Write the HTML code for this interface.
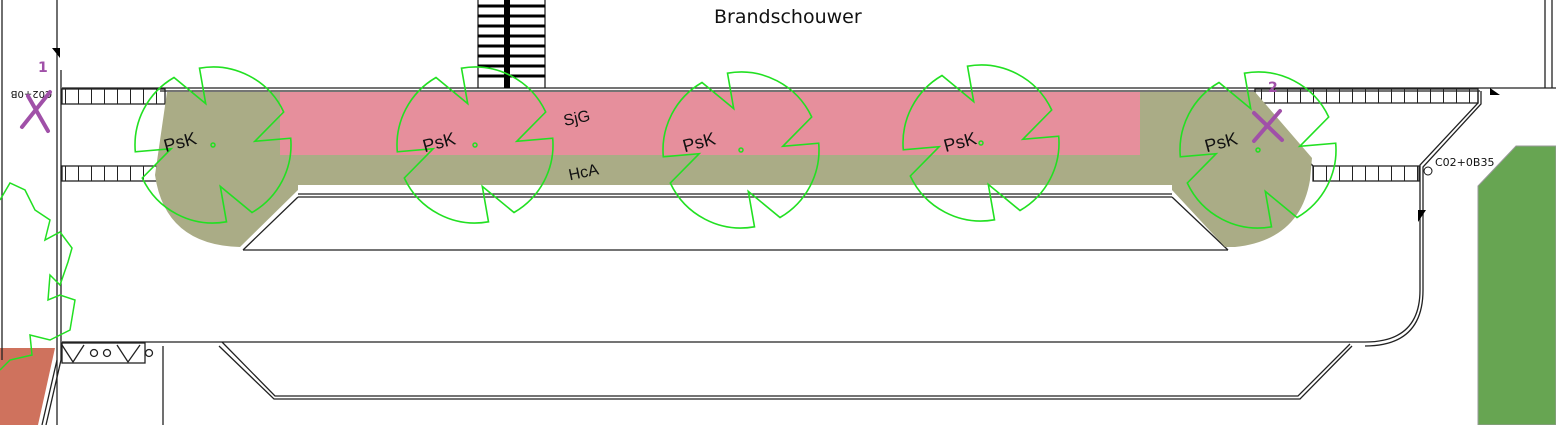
<!DOCTYPE html>
<html><head><meta charset="utf-8"><style>
html,body{margin:0;padding:0;background:#fff}
svg{display:block}
</style></head><body>
<svg width="1556" height="425" viewBox="0 0 1556 425" xmlns="http://www.w3.org/2000/svg">
<defs>
<path id="tree" d="M-13.5,-76.8 A78 78 0 0 1 70.7,-33 L41.8,-3.7 L77.7,-6.8 A78 78 0 0 1 39,67.5 L7.3,41.4 L13.5,76.8 A78 78 0 0 1 -70.7,33 L-41.8,3.7 L-77.7,6.8 A78 78 0 0 1 -39,-67.5 L-7.3,-41.4 Z" fill="none" stroke="#22e022" stroke-width="1.6"/>
<pattern id="cells" width="13" height="20" patternUnits="userSpaceOnUse"><line x1="0.5" y1="0" x2="0.5" y2="20" stroke="#222" stroke-width="1"/></pattern>
</defs>
<rect width="1556" height="425" fill="#fff"/>
<polygon points="1478,186 1516,146 1556,146 1556,425 1478,425" fill="#67a552" stroke="#999" stroke-width="1"/>
<polygon points="0,348 55,348 38,425 0,425" fill="#cf725d"/>
<g fill="none" stroke="#222" stroke-width="1.3">
<line x1="1545" y1="0" x2="1545" y2="88"/>
<line x1="1552" y1="0" x2="1552" y2="88"/>
<line x1="62" y1="88" x2="1556" y2="88"/>
<line x1="160" y1="91" x2="1480" y2="91"/>
<line x1="2" y1="0" x2="2" y2="360"/>
<line x1="57" y1="0" x2="57" y2="425"/>
<line x1="61" y1="70" x2="61" y2="360"/>
<line x1="57" y1="360" x2="42" y2="425"/>
<line x1="61" y1="360" x2="46" y2="425"/>
<rect x="62" y="89" width="103" height="15" fill="url(#cells)"/>
<rect x="62" y="166" width="95" height="15" fill="url(#cells)"/>
<rect x="1255" y="89" width="223" height="14" fill="url(#cells)"/>
<rect x="1313" y="166" width="106" height="15" fill="url(#cells)"/>
<path d="M1478,91 L1478,103 L1420,165 L1420,290 Q1420,342 1365,342"/>
<path d="M1481,91 L1481,104 L1423,167 L1423,290 Q1423,346 1365,346"/>
<path d="M1255,103 L1313,166"/>
<line x1="298" y1="194" x2="1172" y2="194"/>
<line x1="298" y1="197" x2="1172" y2="197"/>
<line x1="243" y1="250" x2="1228" y2="250"/>
<path d="M298,197 L243,250"/>
<path d="M1172,197 L1228,250"/>
<line x1="62" y1="342" x2="1365" y2="342"/>
<path d="M222,342 L275,396 L1298,396 L1350,344"/>
<path d="M219,346 L274,399 L1300,399 L1352,346"/>
<line x1="163" y1="346" x2="163" y2="425"/>
<rect x="62" y="343" width="83" height="20"/>
<path d="M62,345 L73,362 L84,345 M117,345 L128,362 L140,345"/>
<circle cx="94" cy="353" r="3.5"/><circle cx="107" cy="353" r="3.5"/><circle cx="149" cy="353" r="3.5"/>
<line x1="478" y1="0" x2="478" y2="88"/>
<line x1="545" y1="0" x2="545" y2="88"/>
</g>
<g stroke="#000" stroke-width="3">
<line x1="507" y1="0" x2="507" y2="88" stroke-width="6"/>
<line x1="478" y1="6" x2="545" y2="6"/><line x1="478" y1="16" x2="545" y2="16"/><line x1="478" y1="26" x2="545" y2="26"/><line x1="478" y1="36" x2="545" y2="36"/><line x1="478" y1="46" x2="545" y2="46"/><line x1="478" y1="56" x2="545" y2="56"/><line x1="478" y1="66" x2="545" y2="66"/><line x1="478" y1="76" x2="545" y2="76"/>
</g>
<path d="M167,92 L1255,92 L1312,158 L1310,180 Q1300,240 1235,247 L1225,247 L1172,190 L298,190 L240,247 Q165,245 155,175 Z" fill="#aaac86"/>
<rect x="280" y="92" width="860" height="63" fill="#e68f9c"/>
<rect x="298" y="185" width="874" height="5" fill="#fff"/>
<g fill="#000"><polygon points="52,48 60,48 60,58"/><polygon points="1418,210 1426,210 1418,222"/><polygon points="1490,88 1500,95 1490,95"/></g>
<use href="#tree" x="213" y="145"/>
<use href="#tree" x="475" y="145"/>
<use href="#tree" x="741" y="150"/>
<use href="#tree" x="981" y="143"/>
<use href="#tree" x="1258" y="150"/>
<g fill="none" stroke="#22e022" stroke-width="1.5">
<circle cx="213" cy="145" r="2"/><circle cx="475" cy="145" r="2"/><circle cx="741" cy="150" r="2"/><circle cx="981" cy="143" r="2"/><circle cx="1258" cy="150" r="2"/>
<path d="M0,200 L10,183 L25,190 L35,210 L50,220 L45,240 L60,232 L72,248 L68,262 L60,285 L50,275 L48,300 L60,295 L75,300 L70,330 L50,340 L30,335 L32,355 L10,360 L0,370"/>
</g>
<g fill="#111">
<text x="163" y="148" font-size="18" font-family="Liberation Sans, Arial, sans-serif" transform="rotate(-15 180 140)">PsK</text>
<text x="422" y="148" font-size="18" font-family="Liberation Sans, Arial, sans-serif" transform="rotate(-15 440 140)">PsK</text>
<text x="682" y="148" font-size="18" font-family="Liberation Sans, Arial, sans-serif" transform="rotate(-15 700 140)">PsK</text>
<text x="943" y="148" font-size="18" font-family="Liberation Sans, Arial, sans-serif" transform="rotate(-15 960 140)">PsK</text>
<text x="1204" y="148" font-size="18" font-family="Liberation Sans, Arial, sans-serif" transform="rotate(-15 1222 140)">PsK</text>
<text x="563" y="123" font-size="16" font-family="Liberation Sans, Arial, sans-serif" transform="rotate(-12 578 116)">SjG</text>
<text x="568" y="177" font-size="16" font-family="Liberation Sans, Arial, sans-serif" transform="rotate(-12 585 170)">HcA</text>
</g>
<text x="714" y="23" font-size="19" fill="#111" font-family="DejaVu Sans, sans-serif">Brandschouwer</text>
<text x="1435" y="166" font-size="11" fill="#111" font-family="DejaVu Sans, sans-serif">C02+0B35</text>
<circle cx="1428" cy="171" r="4" fill="none" stroke="#111"/>
<text x="0" y="99" font-size="10" fill="#111" font-family="DejaVu Sans, sans-serif" transform="rotate(180 26 95)">C02+0B</text>
<g stroke="#a050a8" stroke-width="4" stroke-linecap="round">
<line x1="22" y1="127" x2="50" y2="92"/><line x1="28" y1="96" x2="48" y2="131"/>
<line x1="1254" y1="141" x2="1280" y2="111"/><line x1="1254" y1="113" x2="1282" y2="140"/>
</g>
<g fill="#a050a8" font-size="14" font-weight="bold" font-family="DejaVu Sans, sans-serif"><text x="38" y="72">1</text><text x="1268" y="92">2</text></g>
</svg>
</body></html>
